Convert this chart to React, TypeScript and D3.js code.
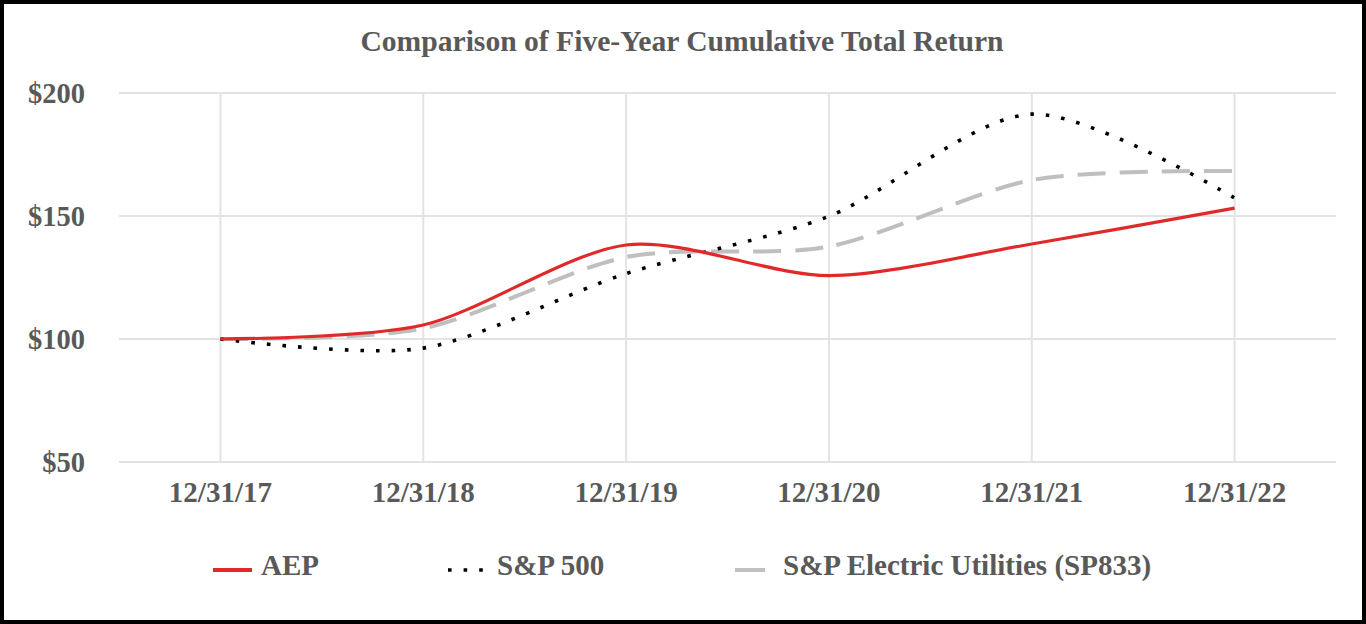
import { curveCardinal, line, scaleBand, scaleLinear } from "d3";

const categories = ["12/31/17", "12/31/18", "12/31/19", "12/31/20", "12/31/21", "12/31/22"];
const aepValues = [100, 105.7, 138.2, 125.8, 138.6, 153.2];
const sp500Values = [100, 96.3, 126.6, 149.9, 191.4, 157.3];
const utilitiesValues = [100, 104.3, 133.3, 137.6, 164.6, 168.3];
const yTicks = [50, 100, 150, 200];
const seriesNames = ["AEP", "S&P 500", "S&P Electric Utilities (SP833)"];

const W = 1366;
const H = 624;
const FONT = "'Liberation Serif', 'Times New Roman', serif";
const TEXT = "#595959";

const styles = [
  { color: "#E02A2A", width: 3.2, dash: undefined as string | undefined },
  { color: "#000000", width: 3.6, dash: "3.6 12" },
  { color: "#BFBFBF", width: 4, dash: "28 14" },
];

export default function App() {
  const x = scaleBand<string>().domain(categories).range([119, 1336]).padding(0);
  const cx = (c: string) => (x(c) ?? 0) + x.bandwidth() / 2;
  const y = scaleLinear().domain([50, 200]).range([462, 93]);

  const path = line<number>()
    .x((_, i) => cx(categories[i]))
    .y((v) => y(v))
    .curve(curveCardinal.tension(0.15));

  const series = [aepValues, sp500Values, utilitiesValues];
  const legendX = [213, 448, 735];
  const legendLen = [39, 37, 30];
  const legendGap = [9, 12, 18];

  return (
    <svg
      width={W}
      height={H}
      style={{ position: "absolute", left: 0, top: 0, background: "#fff" }}
    >
      <rect x={2} y={2} width={W - 4} height={H - 4} fill="#fff" stroke="#000" strokeWidth={4} />
      <text
        x={682}
        y={51}
        textAnchor="middle"
        fontFamily={FONT}
        fontWeight="bold"
        fontSize={29.6}
        fill={TEXT}
      >
        Comparison of Five-Year Cumulative Total Return
      </text>

      {yTicks.map((t) => (
        <g key={t}>
          <line x1={119} x2={1336} y1={y(t)} y2={y(t)} stroke="#E3E3E3" strokeWidth={2} />
          <text
            x={85}
            y={y(t)}
            dy="0.35em"
            textAnchor="end"
            fontFamily={FONT}
            fontWeight="bold"
            fontSize={28.5}
            fill={TEXT}
          >
            ${t}
          </text>
        </g>
      ))}

      {categories.map((c) => (
        <g key={c}>
          <line x1={cx(c)} x2={cx(c)} y1={y(200)} y2={y(50)} stroke="#E3E3E3" strokeWidth={2} />
          <text
            x={cx(c)}
            y={502}
            textAnchor="middle"
            fontFamily={FONT}
            fontWeight="bold"
            fontSize={29}
            fill={TEXT}
          >
            {c}
          </text>
        </g>
      ))}

      {[2, 1, 0].map((i) => (
        <path
          key={seriesNames[i]}
          d={path(series[i]) ?? ""}
          fill="none"
          stroke={styles[i].color}
          strokeWidth={styles[i].width}
          strokeDasharray={styles[i].dash}
        />
      ))}

      {seriesNames.map((name, i) => (
        <g key={name}>
          <line
            x1={legendX[i]}
            x2={legendX[i] + legendLen[i]}
            y1={570}
            y2={570}
            stroke={styles[i].color}
            strokeWidth={i === 0 ? 4 : styles[i].width}
            strokeDasharray={i === 1 ? "3.6 12" : undefined}
          />
          <text
            x={legendX[i] + legendLen[i] + legendGap[i]}
            y={575}
            fontFamily={FONT}
            fontWeight="bold"
            fontSize={29}
            fill={TEXT}
          >
            {name}
          </text>
        </g>
      ))}
    </svg>
  );
}
